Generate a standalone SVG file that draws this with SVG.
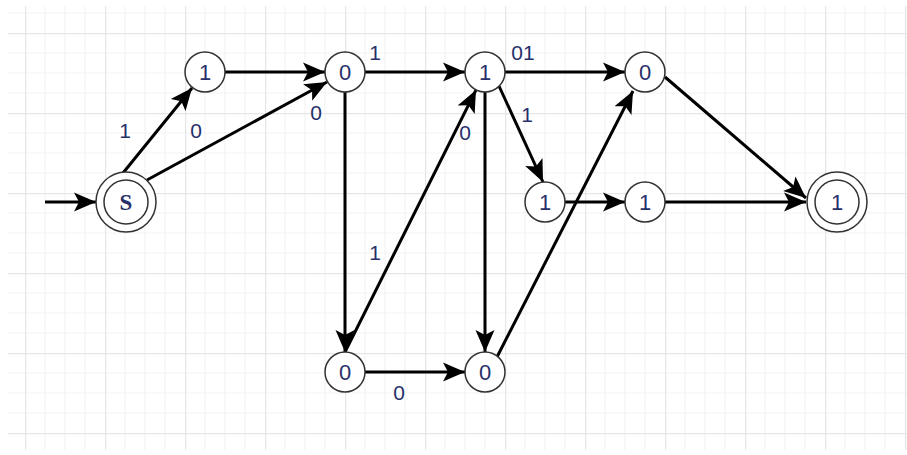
<svg xmlns="http://www.w3.org/2000/svg" width="907" height="455" viewBox="0 0 907 455">
<defs>
<pattern id="grid" x="25" y="33" width="80" height="80" patternUnits="userSpaceOnUse">
<path d="M20,0V80M40,0V80M60,0V80M0,20H80M0,40H80M0,60H80" stroke="#f3f3f3" stroke-width="1.2" fill="none"/>
<path d="M0.5,0V80M0,0.5H80" stroke="#e6e6e6" stroke-width="1.5" fill="none"/>
</pattern>
<marker id="arr" markerUnits="userSpaceOnUse" markerWidth="23" markerHeight="21" refX="22" refY="10.5" orient="auto" viewBox="0 0 23 21">
<path d="M0,1 L22,10.5 L0,20 L5,10.5 Z" fill="#000"/>
</marker>
<style>
.n circle{fill:#fff;stroke:#333;stroke-width:1.5}
.n text{font-family:"Liberation Sans",Arial,sans-serif;font-size:22px;fill:#27306a;text-anchor:middle}
.e line{stroke:#000;stroke-width:3;marker-end:url(#arr)}
.lbl text{font-family:"Liberation Sans",Arial,sans-serif;font-size:21px;fill:#27306a;text-anchor:middle}
</style>
</defs>
<rect x="0" y="0" width="907" height="455" fill="#fff"/>
<rect x="8" y="6" width="899" height="444" fill="url(#grid)"/>
<g id="connectors" class="e">
<line x1="45" y1="202" x2="96" y2="202"/>
<line x1="123" y1="173" x2="192" y2="88"/>
<line x1="147" y1="180" x2="327" y2="82"/>
<line x1="225" y1="72" x2="325" y2="72"/>
<line x1="365" y1="72" x2="465" y2="72"/>
<line x1="345" y1="92" x2="345" y2="352"/>
<line x1="345" y1="352" x2="476" y2="90"/>
<line x1="505" y1="72" x2="625" y2="72"/>
<line x1="499" y1="86" x2="543" y2="182"/>
<line x1="485" y1="92" x2="485" y2="352"/>
<line x1="497" y1="357" x2="633" y2="91"/>
<line x1="565" y1="202" x2="625" y2="202"/>
<line x1="665" y1="77" x2="806" y2="198"/>
<line x1="665" y1="202" x2="806" y2="202"/>
<line x1="365" y1="372" x2="465" y2="372"/>
</g>
<g id="edge-labels" class="lbl">
<text x="125" y="137.5">1</text>
<text x="196" y="137.5">0</text>
<text x="316" y="119.5">0</text>
<text x="375" y="59.5">1</text>
<text x="523" y="59.5">01</text>
<text x="527" y="121.5">1</text>
<text x="465" y="139.5">0</text>
<text x="375" y="259.5">1</text>
<text x="399" y="399.5">0</text>
</g>
<g id="node-S" class="n">
<circle cx="126" cy="202" r="30"/>
<circle cx="126" cy="202" r="22"/>
<text x="126" y="209.5" style="font-family:'Liberation Serif','Times New Roman',serif;font-weight:bold;font-size:23px">S</text>
</g>
<g id="node-A" class="n"><circle cx="205" cy="72" r="20"/><text x="205" y="80">1</text></g>
<g id="node-B" class="n"><circle cx="345" cy="72" r="20"/><text x="345" y="80">0</text></g>
<g id="node-C" class="n"><circle cx="485" cy="72" r="20"/><text x="485" y="80">1</text></g>
<g id="node-D" class="n"><circle cx="645" cy="72" r="20"/><text x="645" y="80">0</text></g>
<g id="node-E" class="n"><circle cx="545" cy="202" r="20"/><text x="545" y="210">1</text></g>
<g id="node-F" class="n"><circle cx="645" cy="202" r="20"/><text x="645" y="210">1</text></g>
<g id="node-G" class="n"><circle cx="345" cy="372" r="20"/><text x="345" y="380">0</text></g>
<g id="node-H" class="n"><circle cx="485" cy="372" r="20"/><text x="485" y="380">0</text></g>
<g id="node-Z" class="n">
<circle cx="837" cy="202" r="30"/>
<circle cx="837" cy="202" r="22"/>
<text x="837" y="210">1</text>
</g>
</svg>
